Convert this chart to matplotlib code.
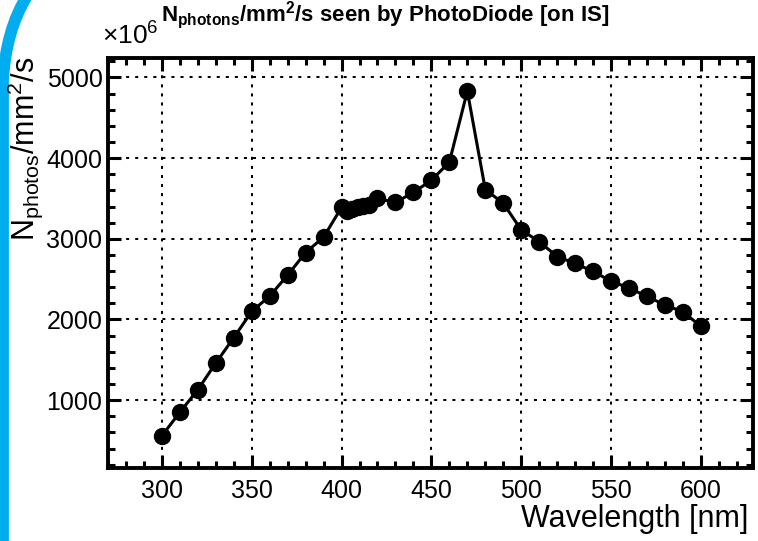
import numpy as np
import matplotlib.pyplot as plt
from matplotlib.path import Path
from matplotlib.patches import PathPatch
from matplotlib.ticker import MultipleLocator

plt.rcParams['font.family'] = ['Liberation Sans', 'DejaVu Sans']
plt.rcParams['mathtext.fontset'] = 'custom'
plt.rcParams['mathtext.rm'] = 'Liberation Sans'
plt.rcParams['mathtext.it'] = 'Liberation Sans:italic'
plt.rcParams['mathtext.bf'] = 'Liberation Sans:bold'

# photodiode flux, in units of 1e6 photons/mm2/s
wavelength = [300, 310, 320, 330, 340, 350, 360, 370, 380, 390,
              400, 403, 406, 409, 412, 415, 420, 430, 440, 450,
              460, 470, 480, 490, 500, 510, 520, 530, 540, 550,
              560, 570, 580, 590, 600]
flux = [560, 850, 1130, 1460, 1775, 2100, 2290, 2550, 2830, 3020,
        3390, 3350, 3370, 3400, 3410, 3420, 3500, 3450, 3575, 3725,
        3950, 4830, 3610, 3440, 3110, 2965, 2780, 2695, 2595, 2475,
        2390, 2285, 2180, 2095, 1915]

W, H = 758, 541
fig = plt.figure(figsize=(W / 100, H / 100), dpi=100)

# blue border stroke along the left edge
arc = Path([(27, -4), (6, 30), (3, 80), (3, 130), (3, H + 5)],
           [Path.MOVETO, Path.CURVE3, Path.CURVE3, Path.LINETO, Path.LINETO])
arc = Path(np.column_stack([arc.vertices[:, 0] / W, 1 - arc.vertices[:, 1] / H]), arc.codes)
fig.patches.append(PathPatch(arc, transform=fig.transFigure, fill=False,
                             edgecolor='#00AEEF', lw=8.5, capstyle='butt'))

ax = fig.add_axes([108 / W, 1 - 468 / H, (753 - 108) / W, (468 - 58) / H])
ax.plot(wavelength, flux, '-o', color='black', lw=2.2, ms=11.5, zorder=3)

ax.set_xlim(270, 629)
ax.set_ylim(160, 5240)
ax.xaxis.set_major_locator(MultipleLocator(50))
ax.xaxis.set_minor_locator(MultipleLocator(10))
ax.yaxis.set_major_locator(MultipleLocator(1000))
ax.yaxis.set_minor_locator(MultipleLocator(200))
ax.tick_params(which='both', direction='in', top=True, right=True,
               width=2.2, labelsize=18)
ax.tick_params(which='major', length=9.5)
ax.tick_params(which='minor', length=5)
ax.tick_params(axis='x', pad=8)
ax.tick_params(axis='y', pad=4)
for s in ax.spines.values():
    s.set_linewidth(2.8)
ax.grid(True, which='major', color='black', lw=1.45, linestyle=(0, (1.5, 3)))

fig.text(385 / W, 1 - 15 / H,
         r'$\mathbf{N}_{\mathbf{photons}}$/mm$^{\mathbf{2}}$/s seen by PhotoDiode [on IS]',
         ha='center', va='center', fontsize=16, fontweight='bold')
fig.text(102 / W, 1 - 45 / H, r'×10$^{6}$', ha='left', va='baseline', fontsize=19)
fig.text(25 / W, 1 - 57 / H, r'N$_{\mathrm{photos}}$/mm$^{2}$/s',
         rotation=90, ha='center', va='top', fontsize=22)
fig.text(748 / W, 1 - 527 / H, 'Wavelength [nm]', ha='right', va='baseline', fontsize=22)

fig.savefig('out.png', dpi=100)
